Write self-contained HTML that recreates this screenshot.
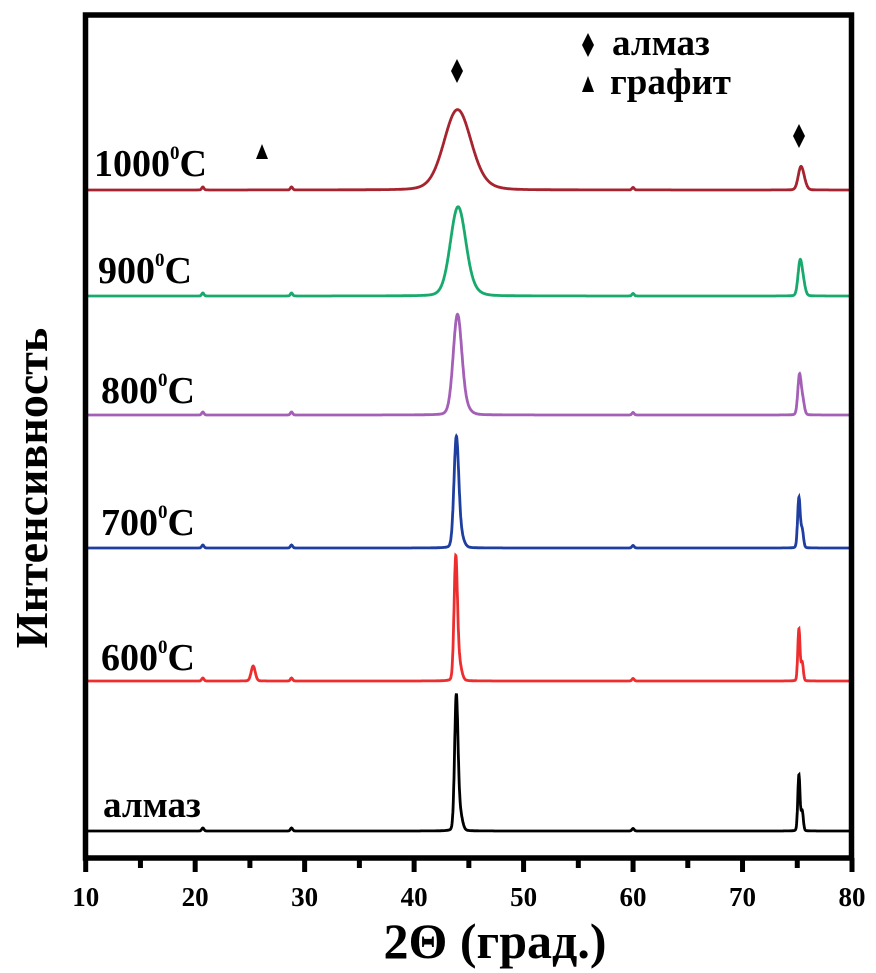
<!DOCTYPE html>
<html><head><meta charset="utf-8"><style>
html,body{margin:0;padding:0;background:#fff;}
svg{display:block;font-family:"Liberation Serif",serif;font-weight:bold;}
</style></head><body>
<svg id="chart" width="876" height="973" viewBox="0 0 876 973" xmlns="http://www.w3.org/2000/svg">
<g id="curves"></g>
<g id="frame"></g>
<g id="ticks"></g>
<g id="labels"></g>
<text x="495" y="958" font-size="50" text-anchor="middle">2Θ (град.)</text>
<text transform="translate(47,488) rotate(-90)" font-size="46" text-anchor="middle">Интенсивность</text>
<g>
<polygon points="588,33 594,45 588,57 582,45" fill="#000"/>
<text x="612" y="55" font-size="37">алмаз</text>
<polygon points="588,76 594,92 582,92" fill="#000"/>
<text x="610" y="94" font-size="37">графит</text>
</g>
<g>
<polygon points="457,59 463,71 457,83 451,71" fill="#000"/>
<polygon points="799,124 805,136 799,148 793,136" fill="#000"/>
<polygon points="262,144 268,159 256,159" fill="#000"/>
</g>
</svg>
<script>
// data
const seriesNames = ["алмаз","600","700","800","900","1000"];
const seriesColors = ["#000000","#ee2e2e","#1f3fa0","#a45fb6","#17aa6c","#a5242f"];
const baselines = [0,150,283,416,535,641];
const mainPeakPos = [43.85,43.8,43.85,43.95,44.0,43.95];
const mainPeakHeight = [129,118,102,89,78,70];
const mainPeakWidth = [0.18,0.18,0.25,0.45,0.8,1.4];
const secPeakPos = [75.15,75.15,75.15,75.2,75.25,75.3];
const secPeakHeight = [56,52,50,39,33,20];
const secPeakWidth = [0.12,0.12,0.14,0.18,0.22,0.28];
const graphitePeakHeight = [0,15,0,0,0,0];
const smallPeakPos = [20.7,28.8,60.0];
const smallPeakHeight = [3,3,2.5];
const xTicks = [10,20,30,40,50,60,70,80];
const minorTicks = [15,25,35,45,55,65,75];

const NS="http://www.w3.org/2000/svg";
const X0=85.7, X1=852, Y0=831;
const xs = v => X0 + (v-10)*(X1-X0)/70;
const ys = v => Y0 - v;
function pk(x,p,h,w){const t=(x-p)/w;return h*(0.9*Math.exp(-0.693*t*t)+0.1/(1+t*t));}
const curves=document.getElementById('curves');
for(let i=0;i<seriesNames.length;i++){
  let d="";
  for(let x=10.2;x<=80;x+=0.02){
    let v=baselines[i]+pk(x,mainPeakPos[i],mainPeakHeight[i],mainPeakWidth[i])
      +pk(x,mainPeakPos[i]+0.3,mainPeakHeight[i]*0.15,mainPeakWidth[i]*1.5)
      +pk(x,secPeakPos[i],secPeakHeight[i],secPeakWidth[i])
      +pk(x,secPeakPos[i]+0.3,secPeakHeight[i]*0.35,secPeakWidth[i])
      +pk(x,25.3,graphitePeakHeight[i],0.22);
    for(let k=0;k<smallPeakPos.length;k++)v+=pk(x,smallPeakPos[k],smallPeakHeight[k],0.12);
    d+=(d?"L":"M")+xs(x).toFixed(1)+","+ys(v).toFixed(1);
  }
  const p=document.createElementNS(NS,'path');
  
  
  p.setAttribute('d',d);p.setAttribute('fill','none');
  p.setAttribute('stroke',seriesColors[i]);p.setAttribute('stroke-width','2.8');
  curves.appendChild(p);
}
const frame=document.getElementById('frame');
const r=document.createElementNS(NS,'rect');


r.setAttribute('x',85.5);r.setAttribute('y',15);r.setAttribute('width',766);r.setAttribute('height',843);
r.setAttribute('fill','none');r.setAttribute('stroke','#000');r.setAttribute('stroke-width','5.5');
frame.appendChild(r);
const ticks=document.getElementById('ticks');
xTicks.forEach(t=>{
  const l=document.createElementNS(NS,'line');
  
  
  l.setAttribute('x1',xs(t));l.setAttribute('x2',xs(t));l.setAttribute('y1',858);l.setAttribute('y2',872);
  l.setAttribute('stroke','#000');l.setAttribute('stroke-width','5');ticks.appendChild(l);
  const tx=document.createElementNS(NS,'text');
  
  
  tx.setAttribute('x',xs(t));tx.setAttribute('y',906);tx.setAttribute('font-size','27');
  tx.setAttribute('text-anchor','middle');tx.textContent=t;ticks.appendChild(tx);
});
minorTicks.forEach(t=>{
  const l=document.createElementNS(NS,'line');
  
  
  l.setAttribute('x1',xs(t));l.setAttribute('x2',xs(t));l.setAttribute('y1',858);l.setAttribute('y2',868);
  l.setAttribute('stroke','#000');l.setAttribute('stroke-width','5');ticks.appendChild(l);
});
const labels=document.getElementById('labels');
const labelY=[817,670,535,403,283,176];
const labelX=[103,101,101,101,98,94];
for(let i=0;i<seriesNames.length;i++){
  const t=document.createElementNS(NS,'text');
  
  
  t.setAttribute('x',labelX[i]);t.setAttribute('y',labelY[i]);t.setAttribute('font-size','38');
  if(i==0){t.textContent=seriesNames[i];t.setAttribute('font-size','37');}
  else{
    t.appendChild(document.createTextNode(seriesNames[i]));
    const s=document.createElementNS(NS,'tspan');s.setAttribute('font-size','19');s.setAttribute('dy','-17');s.textContent='0';t.appendChild(s);
    const c=document.createElementNS(NS,'tspan');c.setAttribute('dy','17');c.textContent='C';t.appendChild(c);
  }
  labels.appendChild(t);
}
</script>
</body></html>
